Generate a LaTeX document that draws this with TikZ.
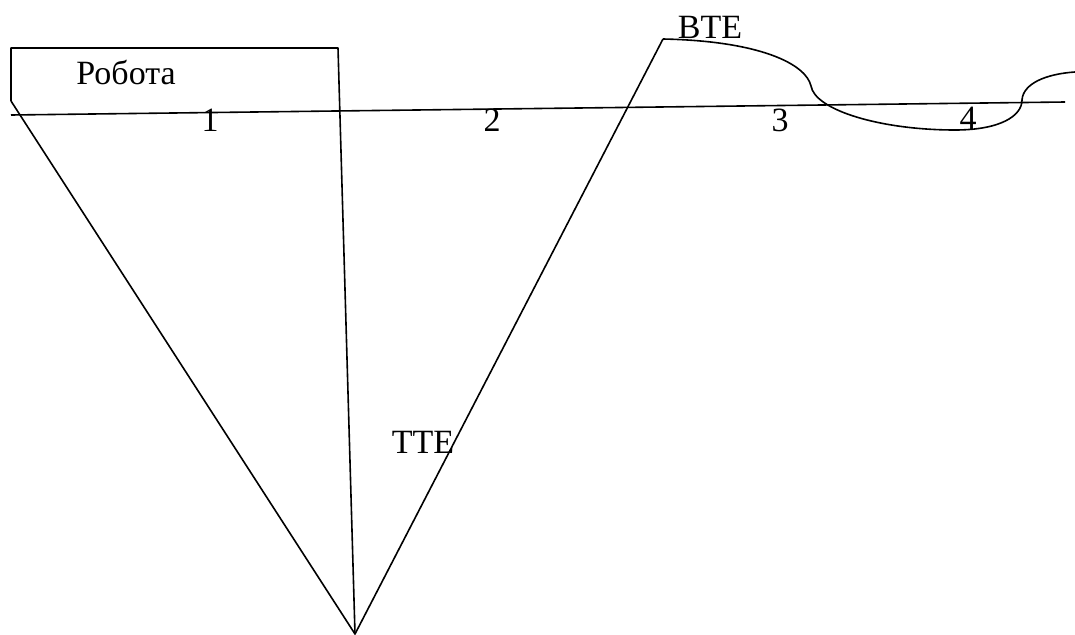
\documentclass[tikz,border=0pt]{standalone}
\usepackage{fontspec}
\setmainfont{Liberation Serif}
\usetikzlibrary{positioning}
\tikzset{
  sketchline/.style={black,line width=1.6pt,line join=round},
  zonelabel/.style={anchor=base,inner sep=0pt,font=\fontsize{34}{38}\selectfont}
}

\begin{document}
\begin{tikzpicture}[x=1pt,y=-1pt]
        \useasboundingbox (0,0) rectangle (1075,634);

        \coordinate (boxbl) at (11,101);
        \coordinate (boxtl) at (11,48);
        \coordinate (boxtr) at (338,48);
        \coordinate (apex) at (355,634);
        \coordinate (bte) at (663,39);
        \coordinate (axisl) at (11,115);
        \coordinate (axisr) at (1065,102);

        % box and the two wedges
        \draw[sketchline] (boxbl) -- (boxtl) -- (boxtr) -- (apex);
        \draw[sketchline] (boxbl) -- (apex) -- (bte);
        \draw[sketchline] (axisl) -- (axisr);

        % wavy branch from BTE
        \draw[sketchline] (bte) .. controls (760,41) and (806,64) .. (811,86)
          .. controls (815,110) and (880,130) .. (955,130)
          .. controls (1000,130) and (1022,116) .. (1022,100)
          .. controls (1023,84) and (1045,74) .. (1075,72);

        \node[zonelabel] (robota) at (126,84) {Робота};
        \node[zonelabel] (zone1) at (210,131) {1};
        \node[zonelabel] (zone2) at (492,131) {2};
        \node[zonelabel] (zone3) at (780,131) {3};
        \node[zonelabel] (zone4) at (968,129) {4};
        \node[zonelabel] (btelabel) at (710,39) {BTE};
        \node[zonelabel] (ttelabel) at (423,453) {TTE};
      \end{tikzpicture}
\end{document}
